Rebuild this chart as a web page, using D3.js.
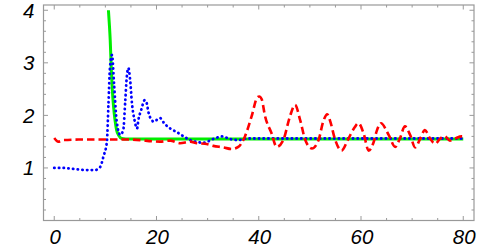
<!DOCTYPE html>
<html><head><meta charset="utf-8">
<script src="https://cdn.jsdelivr.net/npm/d3@7"></script>
<style>body{margin:0;background:#fff}svg{display:block}</style>
</head><body><svg id="c" width="498" height="249"></svg>
<script>
const xTicks=[0,20,40,60,80];
const yTicks=[1,2,3,4];
const greenX=[10.6,10.8,10.95,11.15,11.35,11.6,11.9,12.2,12.6,13.2,14,20,40,60,80];
const greenY=[4.0,3.7,3.43,2.9,2.5,2.17,1.9,1.72,1.62,1.56,1.55,1.55,1.55,1.55,1.55];
const blueX=[0,1.8,3.8,6.4,8.0,9.0,9.6,10.3,10.6,10.9,11.3,11.7,12.2,12.9,13.5,13.9,14.2,14.5,14.85,15.2,15.7,16.2,16.45,17.0,17.7,18.1,18.4,19.1,19.4,20.7,21.5,22.7,24.0,25.3,26.6,29.2,31.1,32.8,34.4,36,37.7,40,60,80];
const blueY=[1.0,1.0,0.98,0.96,0.96,1.02,1.21,1.5,2.2,2.9,3.15,2.6,1.9,1.63,1.72,2.29,2.74,2.9,2.67,2.23,1.91,1.75,1.91,2.1,2.29,2.23,2.07,1.91,1.88,1.95,1.85,1.75,1.68,1.6,1.53,1.48,1.55,1.6,1.55,1.53,1.56,1.56,1.56,1.56];
const redX=[0,0.8,1.8,5,10,15,20.7,22.7,24.6,26.6,27.9,29.5,31.1,33.1,34.7,36,37.3,38.6,39.7,40.1,40.6,41.2,42.5,43.5,44.8,46.1,47.1,48.1,49.1,50.4,51.7,52.6,53.4,54.0,54.9,56.2,57.5,58.8,59.5,60.5,61.5,62.4,63.1,63.9,65.4,66.7,67.6,68.6,69.6,70.6,71.6,72.5,73.5,74.5,75.5,76.4,77.4,78.4,79.7,80];
const redY=[1.57,1.5,1.53,1.54,1.54,1.54,1.5,1.52,1.47,1.5,1.47,1.46,1.42,1.39,1.36,1.4,1.6,1.98,2.34,2.36,2.3,2.0,1.66,1.4,1.53,1.98,2.2,1.91,1.53,1.37,1.53,1.88,2.02,1.88,1.55,1.33,1.55,1.78,1.85,1.66,1.33,1.47,1.71,1.85,1.63,1.4,1.56,1.79,1.63,1.39,1.56,1.72,1.56,1.46,1.56,1.6,1.52,1.56,1.6,1.6];

const svg=d3.select('#c');
const L=43.5,R=474,T=5,B=220.5;
const x=d3.scaleLinear().domain([-2.1,82.1]).range([L,R]);
const y=d3.scaleLinear().domain([0,4.1]).range([B,T]);
const frameCol='#999';

svg.append('rect').attr('x',L).attr('y',T).attr('width',R-L).attr('height',B-T)
  .attr('fill','none').attr('stroke',frameCol).attr('stroke-width',1.2);

const xMinor=d3.range(0,81,5);
const yMinor=d3.range(0,4.01,0.2);
const g=svg.append('g').attr('stroke',frameCol).attr('stroke-width',1);
xMinor.forEach(v=>{
  const len=(v%20===0)?4.5:2.5; const px=x(v);
  g.append('line').attr('x1',px).attr('x2',px).attr('y1',B).attr('y2',B-len);
  g.append('line').attr('x1',px).attr('x2',px).attr('y1',T).attr('y2',T+len);
});
yMinor.forEach(v=>{
  const major=Math.abs(v-Math.round(v))<1e-6;
  const len=major?4.5:2.5; const py=y(v);
  g.append('line').attr('x1',L).attr('x2',L+len).attr('y1',py).attr('y2',py);
  g.append('line').attr('x1',R).attr('x2',R-len).attr('y1',py).attr('y2',py);
});

const font='"Liberation Sans", Arial, sans-serif';
svg.append('g').selectAll('text').data(xTicks).join('text')
  .attr('x',d=>x(d)+1).attr('y',243.5).attr('text-anchor','middle')
  .attr('font-family',font).attr('font-style','italic').attr('font-size',20.5).attr('fill','#000')
  .text(d=>d);
svg.append('g').selectAll('text').data(yTicks).join('text')
  .attr('x',34.5).attr('y',d=>y(d)).attr('dy','0.36em').attr('text-anchor','end')
  .attr('font-family',font).attr('font-style','italic').attr('font-size',20.5).attr('fill','#000')
  .text(d=>d);

const line=d3.line().curve(d3.curveMonotoneX).x(d=>x(d[0])).y(d=>y(d[1]));
const plot=svg.append('g');
plot.append('path').attr('d',line(d3.zip(greenX,greenY))).attr('fill','none')
  .attr('stroke','#00ee00').attr('stroke-width',3);
plot.append('path').attr('d',line(d3.zip(blueX,blueY))).attr('fill','none')
  .attr('stroke','#0000ff').attr('stroke-width',2.8).attr('stroke-linecap','round')
  .attr('stroke-dasharray','0.3,4.4');
plot.append('path').attr('d',line(d3.zip(redX,redY))).attr('fill','none')
  .attr('stroke','#ff0000').attr('stroke-width',2.6).attr('stroke-dasharray','7.5,4');
</script></body></html>
